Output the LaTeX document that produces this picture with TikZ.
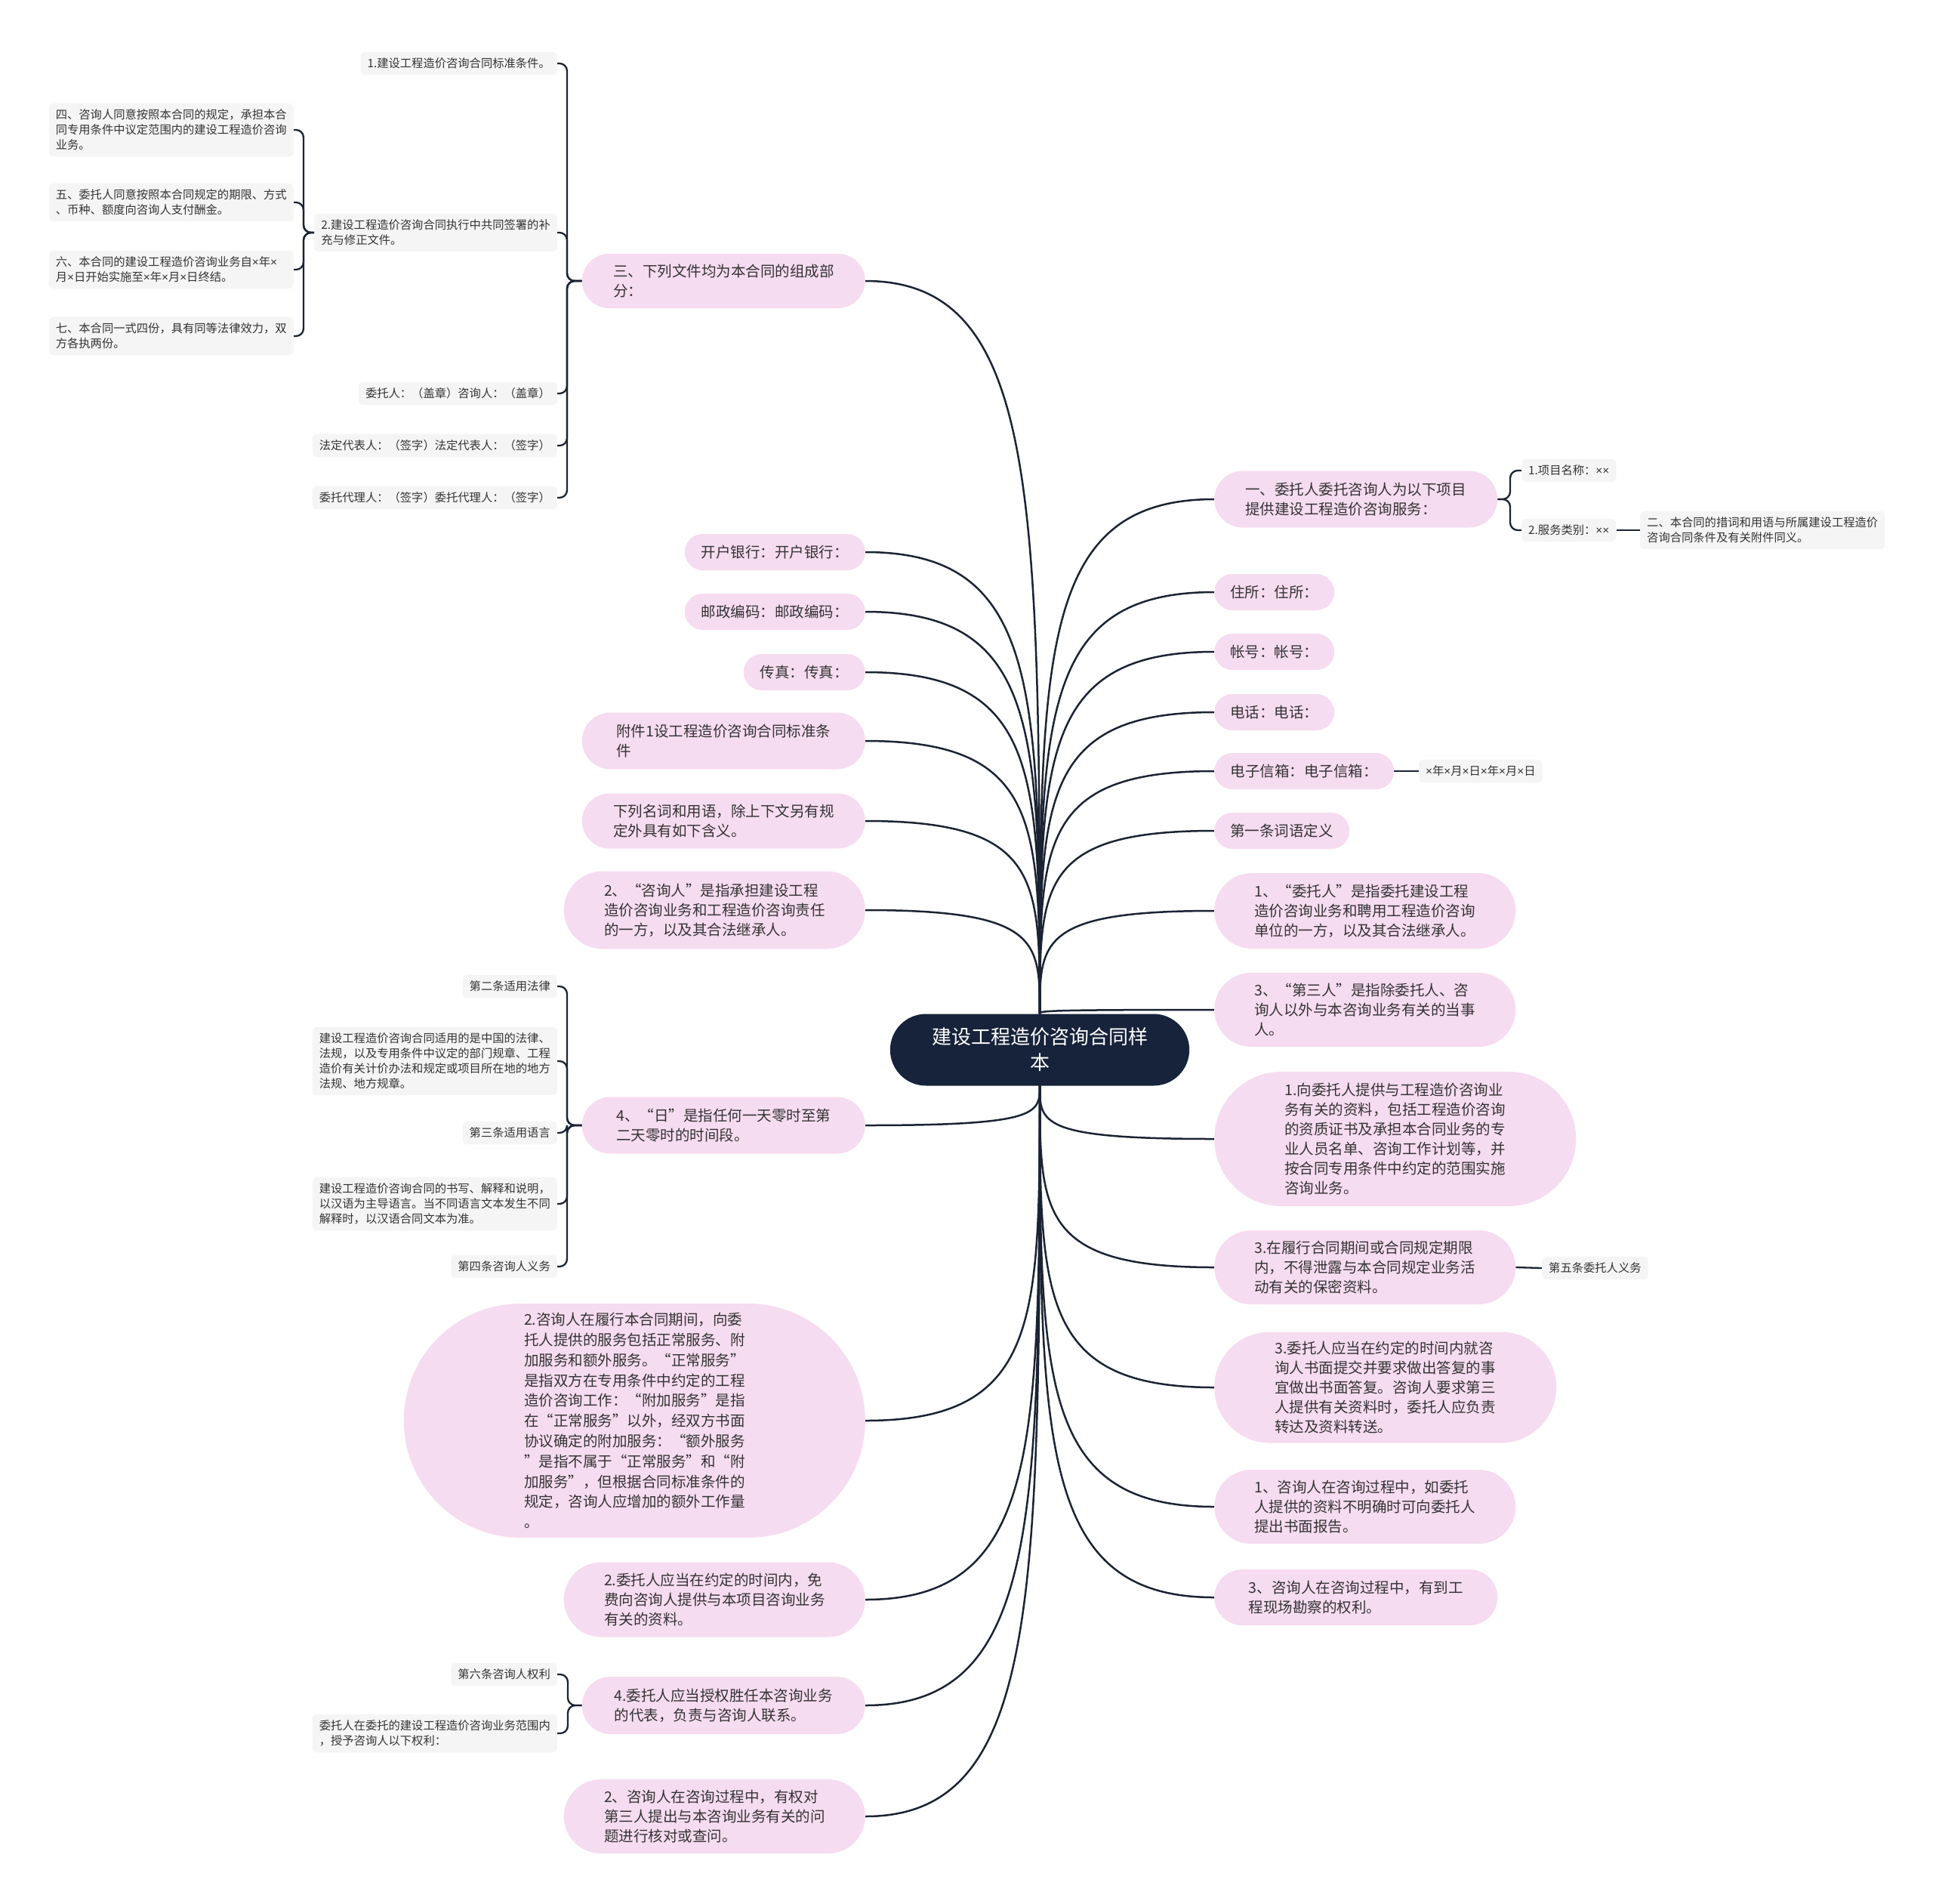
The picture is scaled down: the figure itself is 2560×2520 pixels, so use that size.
\documentclass[tikz,border=0pt]{standalone}
\usepackage{fontspec}
\setmainfont{Noto Sans CJK SC}
\newfontfamily\latf{Liberation Sans}
\newcommand\tms{{\latf ×}}
\usetikzlibrary{shapes.misc,calc}
\pgfdeclarelayer{bg}
\pgfsetlayers{bg,main}
\definecolor{pinkfill}{HTML}{F6DCF0}
\definecolor{greyfill}{HTML}{F5F5F5}
\definecolor{navy}{HTML}{17233A}
\definecolor{linec}{HTML}{1B2333}
\definecolor{txt}{HTML}{333333}
\tikzset{
  pill/.style={rounded rectangle, fill=pinkfill, text=txt, align=left, inner xsep=2pt, inner ysep=4pt, minimum height=48pt, font=\fontsize{19.5}{26}\selectfont},
  gbox/.style={rectangle, rounded corners=6pt, fill=greyfill, text=txt, align=left, inner xsep=9pt, inner ysep=8pt, font=\fontsize{15.3}{20}\selectfont},
  rootbox/.style={rounded rectangle, fill=navy, text=white, align=center, minimum height=95pt, minimum width=403pt, font=\fontsize{26}{34}\selectfont},
  mainline/.style={draw=linec, line width=2.5pt},
  subline/.style={draw=linec, line width=2.3pt, rounded corners=10pt},
}
\newcommand\mcon[2]{\draw[mainline] (#1) .. controls (#1 -| #2) and ($(#1 -| #2)!0.3!(#2)$) .. (#2);}
\newcommand\bcon[3]{\draw[subline] (#1) -- (#1 -| #3) -- (#3 |- #2) -- (#2);}
\begin{document}
\begin{tikzpicture}[x=1pt,y=-1pt]
\begin{pgfonlayer}{bg}
\fill[white] (0,0) rectangle (2560,2520);
\end{pgfonlayer}
\useasboundingbox (0,0) rectangle (2560,2520);

% root
\node[rootbox] (C) at (1377,1390) {建设工程造价咨询合同样\\本};

% left main nodes
\node[pill, anchor=east, minimum height=72pt, minimum width=379pt] (L1) at (1146,372) {三、下列文件均为本合同的组成部\\分：};
\node[pill, anchor=east, minimum width=243pt] (L2) at (1146,731) {开户银行：开户银行：};
\node[pill, anchor=east, minimum width=243pt] (L3) at (1146,810) {邮政编码：邮政编码：};
\node[pill, anchor=east, minimum width=165pt] (L4) at (1146,890) {传真：传真：};
\node[pill, anchor=east, minimum height=75pt, minimum width=379pt] (L5) at (1146,981) {附件1设工程造价咨询合同标准条\\件};
\node[pill, anchor=east, minimum height=73pt, minimum width=379pt] (L6) at (1146,1087) {下列名词和用语，除上下文另有规\\定外具有如下含义。};
\node[pill, anchor=east, minimum height=103pt, minimum width=403pt] (L7) at (1146,1205) {2、“咨询人”是指承担建设工程\\造价咨询业务和工程造价咨询责任\\的一方，以及其合法继承人。};
\node[pill, anchor=east, minimum height=75pt, minimum width=379pt] (L8) at (1146,1490) {4、“日”是指任何一天零时至第\\二天零时的时间段。};
\node[pill, anchor=east, minimum height=310pt, minimum width=615pt, font=\fontsize{19.5}{26.8}\selectfont] (L9) at (1146,1881) {2.咨询人在履行本合同期间，向委\\托人提供的服务包括正常服务、附\\加服务和额外服务。“正常服务”\\是指双方在专用条件中约定的工程\\造价咨询工作：“附加服务”是指\\在“正常服务”以外，经双方书面\\协议确定的附加服务：“额外服务\\”是指不属于“正常服务”和“附\\加服务”，但根据合同标准条件的\\规定，咨询人应增加的额外工作量\\。};
\node[pill, anchor=east, minimum height=99pt, minimum width=403pt] (L10) at (1146,2118) {2.委托人应当在约定的时间内，免\\费向咨询人提供与本项目咨询业务\\有关的资料。};
\node[pill, anchor=east, minimum height=76pt, minimum width=379pt] (L11) at (1146,2258) {4.委托人应当授权胜任本咨询业务\\的代表，负责与咨询人联系。};
\node[pill, anchor=east, minimum height=98pt, minimum width=403pt] (L12) at (1146,2405) {2、咨询人在咨询过程中，有权对\\第三人提出与本咨询业务有关的问\\题进行核对或查问。};

% right main nodes
\node[pill, anchor=west, minimum height=75pt, minimum width=379pt] (R1) at (1608,661) {一、委托人委托咨询人为以下项目\\提供建设工程造价咨询服务：};
\node[pill, anchor=west, minimum width=163pt] (R2) at (1608,784) {住所：住所：};
\node[pill, anchor=west, minimum width=163pt] (R3) at (1608,863) {帐号：帐号：};
\node[pill, anchor=west, minimum width=163pt] (R4) at (1608,943) {电话：电话：};
\node[pill, anchor=west, minimum width=242pt] (R5) at (1608,1021) {电子信箱：电子信箱：};
\node[pill, anchor=west, minimum width=183pt] (R6) at (1608,1100) {第一条词语定义};
\node[pill, anchor=west, minimum height=100pt, minimum width=403pt] (R7) at (1608,1206) {1、“委托人”是指委托建设工程\\造价咨询业务和聘用工程造价咨询\\单位的一方，以及其合法继承人。};
\node[pill, anchor=west, minimum height=98pt, minimum width=403pt] (R8) at (1608,1337) {3、“第三人”是指除委托人、咨\\询人以外与本咨询业务有关的当事\\人。};
\node[pill, anchor=west, minimum height=178pt, minimum width=483pt] (R9) at (1608,1508) {1.向委托人提供与工程造价咨询业\\务有关的资料，包括工程造价咨询\\的资质证书及承担本合同业务的专\\业人员名单、咨询工作计划等，并\\按合同专用条件中约定的范围实施\\咨询业务。};
\node[pill, anchor=west, minimum height=98pt, minimum width=403pt] (R10) at (1608,1678) {3.在履行合同期间或合同规定期限\\内，不得泄露与本合同规定业务活\\动有关的保密资料。};
\node[pill, anchor=west, minimum height=147pt, minimum width=457pt] (R11) at (1608,1837) {3.委托人应当在约定的时间内就咨\\询人书面提交并要求做出答复的事\\宜做出书面答复。咨询人要求第三\\人提供有关资料时，委托人应负责\\转达及资料转送。};
\node[pill, anchor=west, minimum height=98pt, minimum width=403pt] (R12) at (1608,1995) {1、咨询人在咨询过程中，如委托\\人提供的资料不明确时可向委托人\\提出书面报告。};
\node[pill, anchor=west, minimum height=74pt, minimum width=379pt] (R13) at (1608,2115) {3、咨询人在咨询过程中，有到工\\程现场勘察的权利。};

% grey nodes, left
\node[gbox, anchor=east] (g1) at (738,84) {1.建设工程造价咨询合同标准条件。};
\node[gbox, anchor=east] (g2) at (738,308) {2.建设工程造价咨询合同执行中共同签署的补\\充与修正文件。};
\node[gbox, anchor=east] (g3) at (738,521) {委托人：（盖章）咨询人：（盖章）};
\node[gbox, anchor=east] (g4) at (738,590) {法定代表人：（签字）法定代表人：（签字）};
\node[gbox, anchor=east] (g5) at (738,659) {委托代理人：（签字）委托代理人：（签字）};
\node[gbox, anchor=east] (h1) at (389,172) {四、咨询人同意按照本合同的规定，承担本合\\同专用条件中议定范围内的建设工程造价咨询\\业务。};
\node[gbox, anchor=east] (h2) at (389,268) {五、委托人同意按照本合同规定的期限、方式\\、币种、额度向咨询人支付酬金。};
\node[gbox, anchor=east, text width=306pt] (h3) at (389,357) {六、本合同的建设工程造价咨询业务自\tms{}年\tms{}\\月\tms{}日开始实施至\tms{}年\tms{}月\tms{}日终结。};
\node[gbox, anchor=east] (h4) at (389,445) {七、本合同一式四份，具有同等法律效力，双\\方各执两份。};
\node[gbox, anchor=east] (k1) at (738,1306) {第二条适用法律};
\node[gbox, anchor=east] (k2) at (738,1405) {建设工程造价咨询合同适用的是中国的法律、\\法规，以及专用条件中议定的部门规章、工程\\造价有关计价办法和规定或项目所在地的地方\\法规、地方规章。};
\node[gbox, anchor=east] (k3) at (738,1500) {第三条适用语言};
\node[gbox, anchor=east] (k4) at (738,1594) {建设工程造价咨询合同的书写、解释和说明，\\以汉语为主导语言。当不同语言文本发生不同\\解释时，以汉语合同文本为准。};
\node[gbox, anchor=east] (k5) at (738,1677) {第四条咨询人义务};
\node[gbox, anchor=east] (m1) at (738,2217) {第六条咨询人权利};
\node[gbox, anchor=east] (m2) at (738,2295) {委托人在委托的建设工程造价咨询业务范围内\\，授予咨询人以下权利：};

% grey nodes, right
\node[gbox, anchor=west] (n1) at (2015,623) {1.项目名称：\tms\tms};
\node[gbox, anchor=west] (n2) at (2015,702) {2.服务类别：\tms\tms};
\node[gbox, anchor=west] (n3) at (2172,702) {二、本合同的措词和用语与所属建设工程造价\\咨询合同条件及有关附件同义。};
\node[gbox, anchor=west] (p1) at (1879,1021) {\tms{}年\tms{}月\tms{}日\tms{}年\tms{}月\tms{}日};
\node[gbox, anchor=west] (q1) at (2042,1679) {第五条委托人义务};

% spine coordinates
\coordinate (s1) at (751,0);
\coordinate (s2) at (402,0);
\coordinate (s3) at (751,0);
\coordinate (s4) at (752,0);
\coordinate (s5) at (2000,0);

\begin{pgfonlayer}{bg}
% main connectors
\mcon{L1.east}{C.north}
\mcon{L2.east}{C.north}
\mcon{L3.east}{C.north}
\mcon{L4.east}{C.north}
\mcon{L5.east}{C.north}
\mcon{L6.east}{C.north}
\mcon{L7.east}{C.north}
\mcon{L8.east}{C.south}
\mcon{L9.east}{C.south}
\mcon{L10.east}{C.south}
\mcon{L11.east}{C.south}
\mcon{L12.east}{C.south}
\mcon{R1.west}{C.north}
\mcon{R2.west}{C.north}
\mcon{R3.west}{C.north}
\mcon{R4.west}{C.north}
\mcon{R5.west}{C.north}
\mcon{R6.west}{C.north}
\mcon{R7.west}{C.north}
\mcon{R8.west}{C.north}
\mcon{R9.west}{C.south}
\mcon{R10.west}{C.south}
\mcon{R11.west}{C.south}
\mcon{R12.west}{C.south}
\mcon{R13.west}{C.south}
% bracket connectors
\bcon{L1.west}{g1.east}{s1}
\bcon{L1.west}{g2.east}{s1}
\bcon{L1.west}{g3.east}{s1}
\bcon{L1.west}{g4.east}{s1}
\bcon{L1.west}{g5.east}{s1}
\bcon{g2.west}{h1.east}{s2}
\bcon{g2.west}{h2.east}{s2}
\bcon{g2.west}{h3.east}{s2}
\bcon{g2.west}{h4.east}{s2}
\bcon{L8.west}{k1.east}{s3}
\bcon{L8.west}{k2.east}{s3}
\bcon{L8.west}{k3.east}{s3}
\bcon{L8.west}{k4.east}{s3}
\bcon{L8.west}{k5.east}{s3}
\bcon{L11.west}{m1.east}{s4}
\bcon{L11.west}{m2.east}{s4}
\bcon{R1.east}{n1.west}{s5}
\bcon{R1.east}{n2.west}{s5}
\draw[subline] (n2.east) -- (n3.west);
\draw[subline] (R5.east) -- (p1.west);
\draw[subline] (R10.east) -- (q1.west);
\end{pgfonlayer}
\end{tikzpicture}
\end{document}
